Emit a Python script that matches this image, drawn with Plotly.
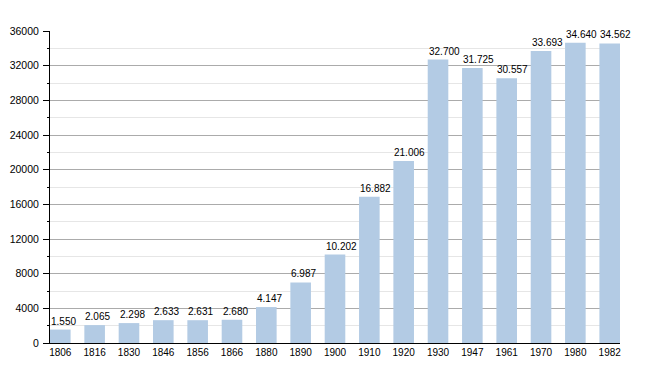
import plotly.graph_objects as go

years = ["1806", "1816", "1830", "1846", "1856", "1866", "1880", "1890", "1900",
         "1910", "1920", "1930", "1947", "1961", "1970", "1980", "1982"]
population = [1550, 2065, 2298, 2633, 2631, 2680, 4147, 6987, 10202,
              16882, 21006, 32700, 31725, 30557, 33693, 34640, 34562]
y_ticks = [0, 4000, 8000, 12000, 16000, 20000, 24000, 28000, 32000, 36000]
y_tick_labels = ["0", "4000", "8000", "12000", "16000", "20000", "24000", "28000", "32000", "36000"]

labels = [f"{v:,}".replace(",", ".") for v in population]
xpos = list(range(len(years)))
BAR_W = 0.6
FONT = "Liberation Sans, Arial, sans-serif"

fig = go.Figure()
fig.add_trace(go.Bar(
    x=xpos, y=population, width=BAR_W,
    marker=dict(color="#b3cbe4", line=dict(width=0)),
    hoverinfo="skip",
))

for xi, v, lab in zip(xpos, population, labels):
    fig.add_annotation(
        x=xi - BAR_W / 2, y=v, text=lab, showarrow=False,
        xanchor="left", yanchor="bottom", xshift=-1, yshift=1,
        font=dict(family=FONT, size=10, color="#000"),
    )

fig.update_layout(
    width=634, height=357,
    margin=dict(l=42, r=22, t=23, b=22),
    plot_bgcolor="white", paper_bgcolor="white",
    showlegend=False,
    font=dict(family=FONT, size=10, color="#000"),
)
fig.update_xaxes(
    range=[-0.3, len(years) - 0.7],
    tickvals=xpos, ticktext=years,
    showline=True, linecolor="#000", linewidth=1,
    showgrid=False, ticks="", zeroline=False,
    tickfont=dict(size=10), automargin=False,
)
fig.update_yaxes(
    range=[0, 36000],
    tickvals=y_ticks, ticktext=y_tick_labels,
    showline=True, linecolor="#000", linewidth=1,
    ticks="outside", ticklen=6, tickcolor="#000", tickwidth=1,
    showgrid=True, gridcolor="#ababab", gridwidth=1,
    zeroline=False, automargin=False,
    tickfont=dict(size=10.5), ticklabelstandoff=2,
    minor=dict(dtick=2000, tick0=0, showgrid=True, gridcolor="#e6e6e6",
               ticks="outside", ticklen=2, tickcolor="#000"),
)

fig.write_html("out.html")
